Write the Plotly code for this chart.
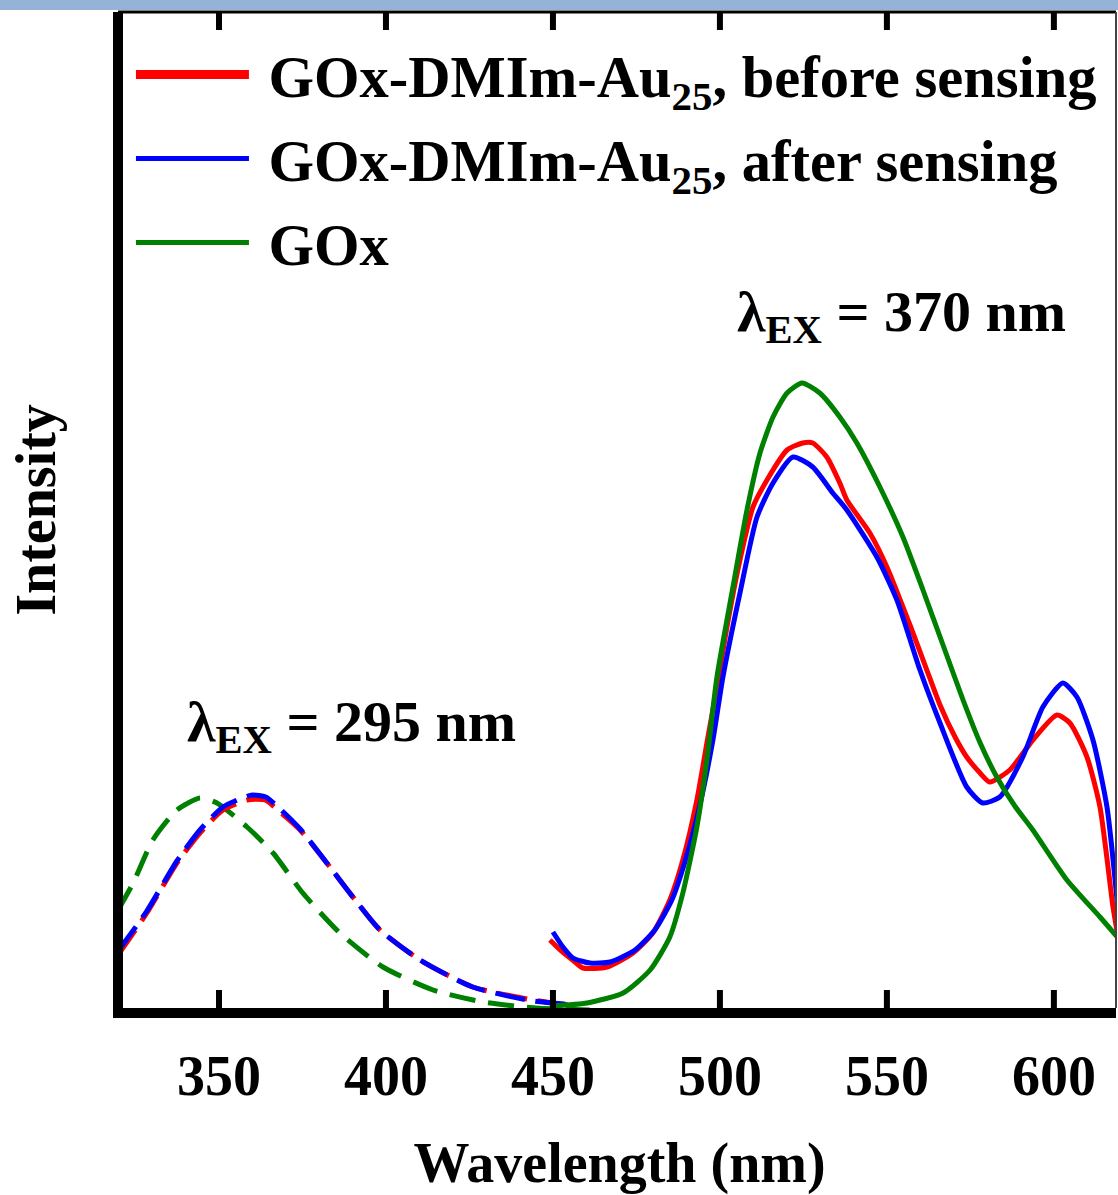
import plotly.graph_objects as go

# ---- data (wavelength nm, intensity a.u.) ----
# Excitation at 295 nm (dashed)
ex295_wl_red = [319.8, 328.4, 337.4, 344.3, 351.2, 358.4, 363.8, 368.3, 374.3, 382.3, 390.1, 398.2, 410.2, 426.0, 444.0, 452.0, 456.5]
ex295_red = [58, 100, 150, 180, 203, 213, 213, 201, 183, 150, 116, 83, 53, 26, 13, 9, 8]
ex295_wl_blue = [319.8, 328.4, 337.4, 344.3, 351.2, 357.0, 360.0, 364.0, 368.3, 374.3, 382.3, 390.1, 398.2, 410.2, 426.0, 444.0, 457.0]
ex295_blue = [62, 102, 152, 183, 206, 215, 218, 216, 204, 184, 150, 116, 83, 53, 26, 12, 8]
ex295_wl_green = [319.8, 324.3, 330.2, 337.4, 344.3, 349.4, 358.4, 366.2, 375.1, 386.2, 399.1, 414.1, 429.0, 445.0, 461.0]
ex295_green = [103, 130, 173, 203, 215, 210, 186, 160, 120, 80, 46, 23, 11, 5, 3]

# Excitation at 370 nm (solid)
ex370_wl_red = [449.1, 452.5, 456.6, 459.0, 466.2, 474.0, 479.9, 485.0, 488.9, 493.1, 496.1, 499.1, 502.1, 506.0,
                509.9, 514.1, 520.1, 524.8, 527.8, 532.0, 535.9, 538.0, 544.9, 550.0, 556.9, 561.4, 565.9, 570.4,
                573.9, 577.9, 580.8, 586.8, 593.7, 600.9, 604.8, 609.9, 613.8, 617.7, 619.0]
ex370_red = [73, 62, 51, 45, 46, 60, 80, 113, 153, 213, 270, 326, 386, 453,
             506, 533, 563, 570, 570, 556, 530, 513, 480, 446, 388, 348, 308, 276,
             256, 240, 231, 243, 273, 298, 290, 256, 206, 106, 80]
ex370_wl_blue = [450.0, 453.0, 456.0, 461.1, 467.1, 474.6, 480.5, 485.6, 489.5, 494.0, 497.9, 500.9, 506.0, 511.1,
                 515.9, 521.9, 527.8, 533.8, 538.0, 547.0, 553.0, 559.9, 565.9, 573.9, 578.7, 583.8, 590.7,
                 596.7, 602.7, 606.9, 611.7, 615.9, 619.0]
ex370_blue = [81, 66, 55, 50, 51, 63, 83, 113, 151, 208, 273, 336, 420, 496,
              530, 556, 546, 520, 503, 456, 413, 343, 290, 226, 210, 216, 256,
              306, 330, 316, 273, 206, 110]
ex370_wl_green = [450.0, 460.2, 471.0, 479.1, 485.0, 488.9, 493.1, 496.1, 499.1, 503.9, 508.1, 512.0, 515.9, 520.1,
                  524.6, 529.9, 535.9, 541.0, 547.9, 554.8, 560.8, 566.8, 572.8, 577.8, 582.9, 588.3, 593.7,
                  603.9, 613.8, 619.0]
ex370_green = [7, 10, 20, 43, 76, 120, 186, 253, 336, 426, 503, 560, 596, 620,
               630, 620, 596, 570, 526, 476, 423, 368, 313, 271, 236, 207, 183,
               133, 96, 76]

names = ["\u00a0GOx-DMIm-Au<sub>25</sub>, before sensing",
         "\u00a0GOx-DMIm-Au<sub>25</sub>, after sensing",
         "\u00a0GOx"]
colors = ["#FF0000", "#0000FF", "#008000"]
legend_widths = [9, 5, 5]
tick_vals = [350, 400, 450, 500, 550, 600]

FONT = "Liberation Serif"
X_RANGE = [321.26, 618.6]
Y_RANGE = [5, 1001]          # 1 intensity unit == 1 px in this layout
TICK_LEN = 18

fig = go.Figure()

# dashed (295 nm excitation)
for wl, val, c, dash in [(ex295_wl_green, ex295_green, colors[2], "26px,13px"),
                         (ex295_wl_red, ex295_red, colors[0], "30px,11px"),
                         (ex295_wl_blue, ex295_blue, colors[1], "30px,11px")]:
    fig.add_trace(go.Scatter(x=wl, y=val, mode="lines", showlegend=False, hoverinfo="skip",
                             line=dict(color=c, width=5, dash=dash, shape="spline", smoothing=0.6)))

# solid (370 nm excitation)
for i, (wl, val) in enumerate([(ex370_wl_red, ex370_red), (ex370_wl_blue, ex370_blue), (ex370_wl_green, ex370_green)]):
    fig.add_trace(go.Scatter(x=wl, y=val, mode="lines", showlegend=False,
                             line=dict(color=colors[i], width=5, shape="spline", smoothing=0.6)))

# legend entries
for i in range(3):
    fig.add_trace(go.Scatter(x=[None], y=[None], mode="lines", name=names[i], legendgroup=f"g{i}",
                             line=dict(color=colors[i], width=legend_widths[i])))

# inward tick marks on the bottom and top frame (axis decoration at the tick values)
for tv in tick_vals:
    fig.add_shape(type="line", xref="x", yref="y", x0=tv, x1=tv, y0=Y_RANGE[0], y1=Y_RANGE[0] + TICK_LEN,
                  line=dict(color="black", width=6), layer="above")
    fig.add_shape(type="line", xref="x", yref="y", x0=tv, x1=tv, y0=Y_RANGE[1] - TICK_LEN, y1=Y_RANGE[1],
                  line=dict(color="black", width=6), layer="above")

fig.add_annotation(x=339.8, y=288, xref="x", yref="y", xanchor="left", yanchor="middle",
                   text="λ<sub>EX</sub> = 295 nm", showarrow=False,
                   font=dict(family=FONT, size=58, color="black", weight="bold"))
fig.add_annotation(x=504.5, y=698, xref="x", yref="y", xanchor="left", yanchor="middle",
                   text="λ<sub>EX</sub> = 370 nm", showarrow=False,
                   font=dict(family=FONT, size=58, color="black", weight="bold"))

# light-blue band at the very top of the image and thin top/right frame
fig.add_shape(type="rect", xref="paper", yref="paper", x0=-0.2, x1=1.1, y0=1.002, y1=1.03,
              fillcolor="#95B3D7", line_width=0, layer="above")
fig.add_shape(type="line", xref="paper", yref="paper", x0=-0.005, x1=1, y0=1, y1=1,
              line=dict(color="black", width=3), layer="above")
fig.add_shape(type="line", xref="paper", yref="paper", x0=1, x1=1, y0=0, y1=1,
              line=dict(color="#444444", width=2))

axis_font = dict(family=FONT, size=56, color="black", weight="bold")

fig.update_layout(
    width=1118, height=1195,
    margin=dict(l=123, r=2, t=12, b=187),
    paper_bgcolor="white", plot_bgcolor="white",
    font=dict(family=FONT, color="black"),
    xaxis=dict(range=X_RANGE, tickmode="array", tickvals=tick_vals, ticks="",
               showline=True, linecolor="black", linewidth=10, showgrid=False,
               zeroline=False, tickfont=axis_font, ticklabelstandoff=10,
               title=dict(text="Wavelength (nm)", font=axis_font, standoff=43)),
    yaxis=dict(range=Y_RANGE, showticklabels=False, ticks="", showline=True, linecolor="black",
               linewidth=10, showgrid=False, zeroline=False,
               title=dict(text="Intensity", font=dict(family=FONT, size=56, color="black", weight="bold"),
                          standoff=43)),
    legend=dict(x=0.008, y=0.982, xanchor="left", yanchor="top", bgcolor="rgba(0,0,0,0)",
                font=dict(family=FONT, size=58.5, color="black", weight="bold"),
                itemwidth=113, tracegroupgap=5),
)

fig.write_html("out.html")
